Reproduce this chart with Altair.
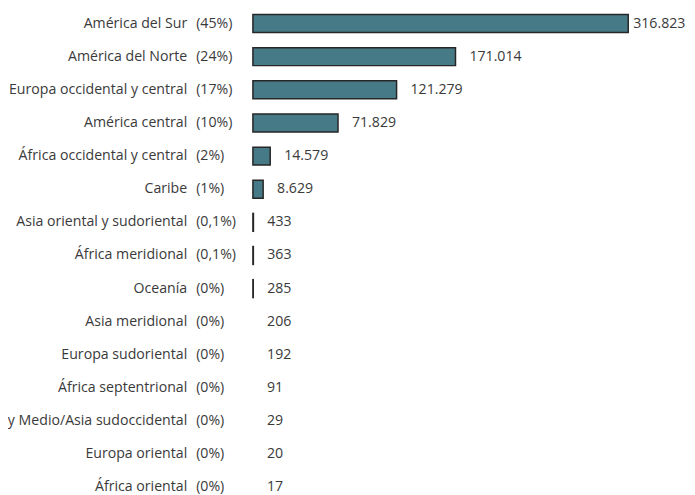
import altair as alt
import pandas as pd

regions = [
    "América del Sur",
    "América del Norte",
    "Europa occidental y central",
    "América central",
    "África occidental y central",
    "Caribe",
    "Asia oriental y sudoriental",
    "África meridional",
    "Oceanía",
    "Asia meridional",
    "Europa sudoriental",
    "África septentrional",
    "Oriente Cercano y Medio/Asia sudoccidental",
    "Europa oriental",
    "África oriental",
]
shares = ["(45%)", "(24%)", "(17%)", "(10%)", "(2%)", "(1%)", "(0,1%)", "(0,1%)",
          "(0%)", "(0%)", "(0%)", "(0%)", "(0%)", "(0%)", "(0%)"]
values = [316823, 171014, 121279, 71829, 14579, 8629, 433, 363, 285, 206, 192, 91, 29, 20, 17]
value_labels = ["316.823", "171.014", "121.279", "71.829", "14.579", "8.629", "433", "363",
                "285", "206", "192", "91", "29", "20", "17"]

df = pd.DataFrame({"region": regions, "share": shares, "value": values, "label": value_labels})

W = 420
XMAX = 353000
FONT = "Open Sans"
FS = 14.2
TXT = "#3a3a3a"

x_scale = alt.Scale(domain=[0, XMAX], nice=False, zero=True)
y_enc = alt.Y("region:N", sort=regions, axis=None,
              scale=alt.Scale(range=[-2.1, 497.1], paddingInner=0.46, paddingOuter=0.23))

base = alt.Chart(df)

bars = base.mark_bar(fill="#477a87", stroke="#262626", strokeWidth=1.5).encode(
    x=alt.X("value:Q", scale=x_scale, axis=None),
    y=y_enc,
    strokeOpacity=alt.condition("datum.value > 250", alt.value(1), alt.value(0)),
    fillOpacity=alt.condition("datum.value > 250", alt.value(1), alt.value(0)),
)

names = base.mark_text(align="right", baseline="middle", font=FONT, fontSize=FS, color=TXT).encode(
    x=alt.value(-66),
    y=y_enc,
    text="region:N",
)

pct = base.mark_text(align="left", baseline="middle", font=FONT, fontSize=FS, color=TXT).encode(
    x=alt.value(-57),
    y=y_enc,
    text="share:N",
)

px = XMAX / W
vals = base.transform_calculate(
    lx=f"datum.value + (datum.value > 300000 ? 5 : 14) * {px}"
).mark_text(align="left", baseline="middle", font=FONT, fontSize=FS, color=TXT).encode(
    x=alt.X("lx:Q", scale=x_scale, axis=None),
    y=y_enc,
    text="label:N",
)

chart = alt.layer(bars, names, pct, vals).properties(
    width=W,
    height=487,
    autosize=alt.AutoSizeParams(type="none"),
    padding={"left": 246, "top": 0, "right": 16, "bottom": 0},
    background="white",
).configure_view(stroke=None)

chart.save("out.html", embed_options={"renderer": "svg", "actions": False})
